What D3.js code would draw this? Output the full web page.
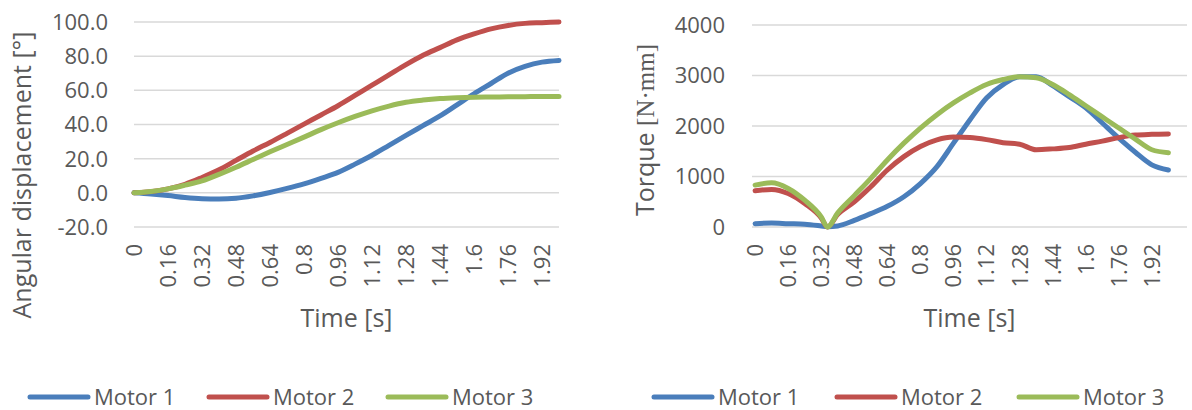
<!DOCTYPE html>
<html>
<head>
<meta charset="utf-8">
<script src="https://cdn.jsdelivr.net/npm/d3@7"></script>
<style>
  html, body { margin: 0; padding: 0; background: #ffffff; }
  svg { display: block; }
  text { font-family: "Open Sans", "Noto Sans", sans-serif; fill: #595959; }
</style>
</head>
<body>
<svg id="chart" width="1192" height="410"></svg>
<script>
// ---------- data ----------
const seriesNames = ["Motor 1", "Motor 2", "Motor 3"];
const seriesColors = ["#4a7ebb", "#c0504d", "#9bbb59"];
const timeTickLabels = ["0","0.16","0.32","0.48","0.64","0.8","0.96","1.12","1.28","1.44","1.6","1.76","1.92"];

const dispTicks = [-20, 0, 20, 40, 60, 80, 100];
const torqueTicks = [0, 1000, 2000, 3000, 4000];

const dispTime = [0,0.08,0.16,0.24,0.32,0.40,0.48,0.56,0.64,0.72,0.80,0.88,0.96,1.04,1.12,1.20,1.28,1.36,1.44,1.52,1.60,1.68,1.76,1.84,1.92,2.00];
const dispMotor1 = [0,-0.7,-1.6,-2.7,-3.4,-3.6,-3.2,-1.8,0.2,2.6,5.3,8.5,12,16.8,22,27.8,33.6,39.3,45,51.5,58,64,70,74,76.5,77.5];
const dispMotor2 = [0,0.7,2.3,5,9,13.5,19,24.5,29.5,34.8,40.2,45.6,51,57,63,69,75,80.5,85,89.5,93,96,98,99.2,99.6,100];
const dispMotor3 = [0,0.8,2.3,4.5,7,10.8,15,19.5,24,28.3,32.6,37,41,44.7,48,50.8,53,54.3,55.2,55.7,56,56.1,56.2,56.3,56.4,56.4];

const torqueTime = [0,0.08,0.16,0.24,0.32,0.35,0.40,0.48,0.56,0.64,0.72,0.80,0.88,0.96,1.04,1.12,1.20,1.28,1.36,1.44,1.52,1.60,1.68,1.76,1.84,1.92,2.00];
const torqueMotor1 = [66,78,66,55,20,5,20,130,265,410,600,860,1195,1660,2125,2555,2820,2975,2975,2800,2580,2360,2060,1760,1480,1230,1130];
const torqueMotor2 = [717,744,664,465,180,0,250,498,797,1129,1394,1594,1726,1780,1770,1730,1670,1640,1530,1547,1574,1640,1700,1770,1820,1835,1842];
const torqueMotor3 = [830,876,764,531,200,0,280,620,963,1328,1660,1960,2225,2457,2656,2822,2920,2975,2955,2822,2623,2400,2180,1960,1740,1530,1471];

// ---------- drawing ----------
const svg = d3.select("#chart");

function drawPanel(cfg) {
  const g = svg.append("g");
  const x = d3.scaleLinear().domain(cfg.xDomain).range(cfg.xRange);
  const y = d3.scaleLinear().domain(cfg.yDomain).range(cfg.yRange);

  // gridlines
  g.append("g").selectAll("line").data(cfg.yTicks).join("line")
    .attr("x1", cfg.xRange[0]).attr("x2", cfg.xRange[1])
    .attr("y1", d => y(d)).attr("y2", d => y(d))
    .attr("stroke", "#d9d9d9").attr("stroke-width", 1.5);

  // y tick labels
  g.append("g").selectAll("text").data(cfg.yTicks).join("text")
    .attr("x", cfg.yLabelX).attr("y", d => y(d)).attr("dy", "0.36em")
    .attr("text-anchor", "end").style("font-size", "22px")
    .text(cfg.yFormat);

  // x tick labels (rotated)
  g.append("g").selectAll("text").data(timeTickLabels).join("text")
    .attr("transform", d => `translate(${x(+d)},${cfg.xLabelY}) rotate(-90)`)
    .attr("dy", "0.36em").attr("text-anchor", "end").style("font-size", "22px")
    .text(d => d);

  // lines
  const line = d3.line()
    .x(d => x(d[0])).y(d => y(d[1]))
    .curve(d3.curveMonotoneX);
  cfg.series.forEach((vals, i) => {
    g.append("path")
      .datum(cfg.time.map((t, k) => [t, vals[k]]))
      .attr("d", line)
      .attr("fill", "none")
      .attr("stroke", seriesColors[i])
      .attr("stroke-width", 5)
      .attr("stroke-linecap", "round")
      .attr("stroke-linejoin", "round");
  });

  // x axis title
  g.append("text").attr("x", (cfg.xRange[0] + cfg.xRange[1]) / 2).attr("y", 318)
    .attr("dy", "0.36em").attr("text-anchor", "middle").style("font-size", "25px")
    .text("Time [s]");

  // y axis title
  const yt = g.append("text")
    .attr("transform", `translate(${cfg.yTitle.x},${cfg.yTitle.y}) rotate(-90)`)
    .attr("dy", "0.36em").attr("text-anchor", "middle").style("font-size", "25px");
  cfg.yTitle.parts.forEach(p => {
    const ts = yt.append("tspan").text(p.text);
    if (p.serif) ts.style("font-family", "'Liberation Serif', 'Times New Roman', serif");
  });

  // legend
  cfg.legend.forEach((lx, i) => {
    g.append("line").attr("x1", lx).attr("x2", lx + 58)
      .attr("y1", 397).attr("y2", 397)
      .attr("stroke", seriesColors[i]).attr("stroke-width", 5)
      .attr("stroke-linecap", "round");
    g.append("text").attr("x", lx + 64).attr("y", 397).attr("dy", "0.36em")
      .style("font-size", "22px").text(seriesNames[i]);
  });
}

drawPanel({
  xDomain: [0, 2.0], xRange: [134, 559],
  yDomain: [-20, 100], yRange: [227, 22],
  yTicks: dispTicks, yFormat: d => d3.format(".1f")(d).replace("\u2212", "-"),
  yLabelX: 108, xLabelY: 244,
  time: dispTime, series: [dispMotor1, dispMotor2, dispMotor3],
  yTitle: { x: 22, y: 175, parts: [{ text: "Angular displacement [°]" }] },
  legend: [30, 209, 388]
});

drawPanel({
  xDomain: [-0.015, 2.09], xRange: [752, 1187],
  yDomain: [0, 4000], yRange: [227, 25],
  yTicks: torqueTicks, yFormat: d => String(d),
  yLabelX: 725, xLabelY: 244,
  time: torqueTime, series: [torqueMotor1, torqueMotor2, torqueMotor3],
  yTitle: { x: 645, y: 130, parts: [{ text: "Torque " }, { text: "[N·mm]", serif: true }] },
  legend: [654, 837, 1019]
});
</script>
</body>
</html>
